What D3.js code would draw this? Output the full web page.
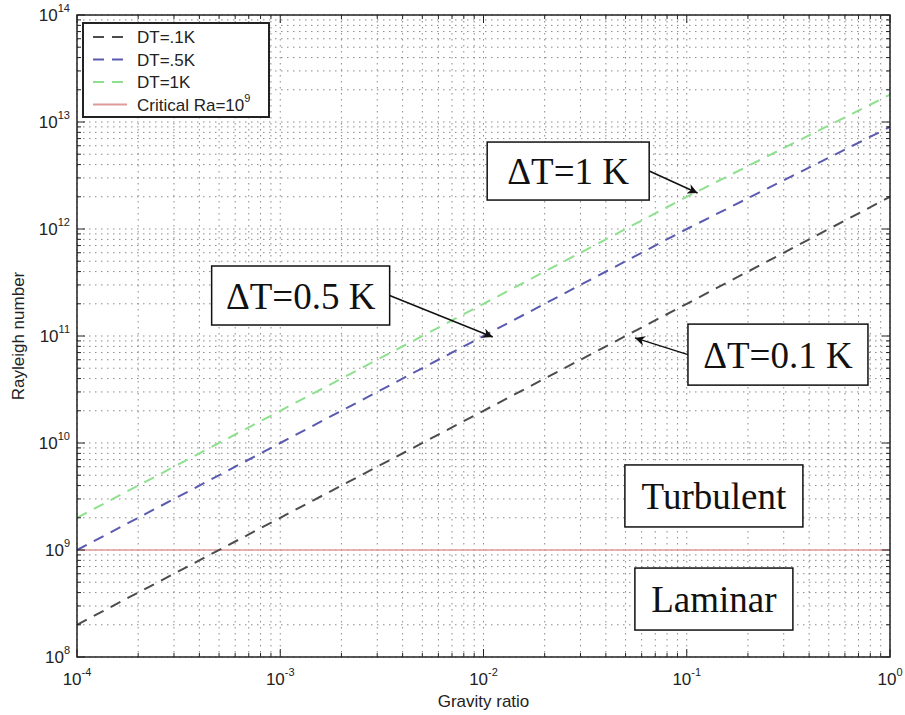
<!DOCTYPE html>
<html>
<head>
<meta charset="utf-8">
<script src="https://cdn.jsdelivr.net/npm/d3@7"></script>
<style>
  body { margin: 0; background: #fff; }
  text { font-family: "Liberation Sans", Arial, sans-serif; }
  .serif { font-family: "Liberation Serif", "Times New Roman", serif; }
</style>
</head>
<body>
<script>
// dados
var gravidade = [1e-4, 1e-3, 1e-2, 1e-1, 1];
var raDT01 = [2e8, 2e9, 2e10, 2e11, 2e12];
var raDT05 = [1e9, 1e10, 1e11, 1e12, 9e12];
var raDT1 = [2e9, 2e10, 2e11, 2e12, 1.8e13];
var raCritico = 1e9;
var xTicks = [1e-4, 1e-3, 1e-2, 1e-1, 1];
var xExpoentes = ["-4", "-3", "-2", "-1", "0"];
var yTicks = [1e8, 1e9, 1e10, 1e11, 1e12, 1e13, 1e14];
var yExpoentes = ["8", "9", "10", "11", "12", "13", "14"];
var legendaNomes = ["DT=.1K", "DT=.5K", "DT=1K", "Critical Ra=10"];

// anotacoes: centro da caixa e ponta da seta em coordenadas dos dados
var anotacoes = [
  {texto: "\u0394T=1 K", g: 0.0261, ra: 3.48e12, w: 162, h: 58, tipG: 0.113, tipRa: 2.17e12, lado: "right"},
  {texto: "\u0394T=0.5 K", g: 1.26e-3, ra: 2.39e11, w: 178, h: 59, tipG: 0.0111, tipRa: 9.8e10, lado: "right"},
  {texto: "\u0394T=0.1 K", g: 0.281, ra: 6.7e10, w: 180, h: 61, tipG: 0.0556, tipRa: 9.6e10, lado: "left"},
  {texto: "Turbulent", g: 0.136, ra: 3.2e9, w: 178, h: 62},
  {texto: "Laminar", g: 0.136, ra: 3.48e8, w: 158, h: 62}
];

var width = 905;
var height = 715;
var margin = {top: 15, left: 77, right: 15, bottom: 58};
var plotW = width - margin.left - margin.right;
var plotH = height - margin.top - margin.bottom;

var svgTag = d3.select("body").append("svg")
  .attr("width", width)
  .attr("height", height);

var defs = svgTag.append("defs");
defs.append("marker")
  .attr("id", "seta")
  .attr("viewBox", "0 0 10 10")
  .attr("refX", 10).attr("refY", 5)
  .attr("markerWidth", 14).attr("markerHeight", 10)
  .attr("markerUnits", "userSpaceOnUse")
  .attr("orient", "auto")
  .append("path")
  .attr("d", "M0,0 L10,5 L0,10 L3,5 Z")
  .attr("fill", "#111");

var x = d3.scaleLog().domain([1e-4, 1]).range([0, plotW]);
var y = d3.scaleLog().domain([1e8, 1e14]).range([plotH, 0]);

var g = svgTag.append("g").attr("transform", "translate(" + margin.left + "," + margin.top + ")");

// grade pontilhada (maior e menor)
var xTodos = x.ticks();
var yTodos = y.ticks();
var grade = g.append("g").attr("class", "grade");
grade.selectAll(".gx").data(xTodos).enter().append("line")
  .attr("x1", d => x(d)).attr("x2", d => x(d))
  .attr("y1", 0).attr("y2", plotH)
  .attr("stroke", "#8a8a8a").attr("stroke-width", 1)
  .attr("stroke-dasharray", "1.5,4.5");
grade.selectAll(".gy").data(yTodos).enter().append("line")
  .attr("y1", d => y(d)).attr("y2", d => y(d))
  .attr("x1", 0).attr("x2", plotW)
  .attr("stroke", "#8a8a8a").attr("stroke-width", 1)
  .attr("stroke-dasharray", "1.5,4.5");

// linhas
var linha = d3.line().x((d, i) => x(gravidade[i])).y(d => y(d));
var series = [
  {dados: raDT01, cor: "#4c4c4c"},
  {dados: raDT05, cor: "#5a5ab0"},
  {dados: raDT1, cor: "#8ee08e"}
];

g.append("line")
  .attr("x1", x(1e-4)).attr("x2", x(1))
  .attr("y1", y(raCritico)).attr("y2", y(raCritico))
  .attr("stroke", "#e09a9a").attr("stroke-width", 1.5);

series.forEach(function(s) {
  g.append("path")
    .datum(s.dados)
    .attr("d", linha)
    .attr("fill", "none")
    .attr("stroke", s.cor)
    .attr("stroke-width", 2)
    .attr("stroke-dasharray", "11,8");
});

// ticks para dentro nos quatro lados
function ehMaior(d) { return Math.abs(Math.log10(d) - Math.round(Math.log10(d))) < 1e-6; }
var ticksG = g.append("g").attr("stroke", "#222").attr("stroke-width", 1);
xTodos.forEach(function(d) {
  var len = ehMaior(d) ? 8 : 4;
  ticksG.append("line").attr("x1", x(d)).attr("x2", x(d)).attr("y1", plotH).attr("y2", plotH - len);
  ticksG.append("line").attr("x1", x(d)).attr("x2", x(d)).attr("y1", 0).attr("y2", len);
});
yTodos.forEach(function(d) {
  var len = ehMaior(d) ? 8 : 4;
  ticksG.append("line").attr("y1", y(d)).attr("y2", y(d)).attr("x1", 0).attr("x2", len);
  ticksG.append("line").attr("y1", y(d)).attr("y2", y(d)).attr("x1", plotW).attr("x2", plotW - len);
});

g.append("rect")
  .attr("width", plotW).attr("height", plotH)
  .attr("fill", "none").attr("stroke", "#222").attr("stroke-width", 1.5);

// rotulos dos eixos
xTicks.forEach(function(d, i) {
  var t = g.append("text")
    .attr("x", x(d)).attr("y", plotH + 28)
    .attr("text-anchor", "middle")
    .attr("font-size", 17).attr("fill", "#222");
  t.append("tspan").text("10");
  t.append("tspan").attr("font-size", 11).attr("dy", -9).text(xExpoentes[i]);
});
yTicks.forEach(function(d, i) {
  var t = g.append("text")
    .attr("x", -7).attr("y", y(d) + 6)
    .attr("text-anchor", "end")
    .attr("font-size", 17).attr("fill", "#222");
  t.append("tspan").text("10");
  t.append("tspan").attr("font-size", 11).attr("dy", -9).text(yExpoentes[i]);
});

svgTag.append("text")
  .attr("x", margin.left + plotW / 2).attr("y", 707)
  .attr("text-anchor", "middle").attr("font-size", 17).attr("fill", "#222")
  .text("Gravity ratio");
svgTag.append("text")
  .attr("transform", "translate(24," + (margin.top + plotH / 2) + ") rotate(-90)")
  .attr("text-anchor", "middle").attr("font-size", 17).attr("fill", "#222")
  .text("Rayleigh number");

// legenda
var leg = g.append("g").attr("transform", "translate(6,8)");
leg.append("rect")
  .attr("width", 186).attr("height", 94)
  .attr("fill", "#fff").attr("stroke", "#222").attr("stroke-width", 2);
var coresLeg = ["#4c4c4c", "#5a5ab0", "#8ee08e", "#e09a9a"];
legendaNomes.forEach(function(nome, i) {
  var yy = 14 + i * 22.5;
  leg.append("line")
    .attr("x1", 10).attr("x2", 44).attr("y1", yy).attr("y2", yy)
    .attr("stroke", coresLeg[i]).attr("stroke-width", 2)
    .attr("stroke-dasharray", i < 3 ? "11,8" : null);
  var t = leg.append("text")
    .attr("x", 54).attr("y", yy + 6)
    .attr("font-size", 17).attr("fill", "#222");
  t.append("tspan").text(nome);
  if (i === 3) t.append("tspan").attr("font-size", 11).attr("dy", -9).text("9");
});

// anotacoes com caixas e setas
anotacoes.forEach(function(a) {
  var cx = x(a.g), cy = y(a.ra);
  g.append("rect")
    .attr("x", cx - a.w / 2).attr("y", cy - a.h / 2)
    .attr("width", a.w).attr("height", a.h)
    .attr("fill", "#fff").attr("stroke", "#111").attr("stroke-width", 1.5);
  g.append("text")
    .attr("class", "serif")
    .attr("x", cx).attr("y", cy + 13)
    .attr("text-anchor", "middle")
    .attr("font-size", 37).attr("fill", "#111")
    .text(a.texto);
  if (a.lado) {
    var sx = a.lado === "right" ? cx + a.w / 2 : cx - a.w / 2;
    g.append("line")
      .attr("x1", sx).attr("y1", cy)
      .attr("x2", x(a.tipG)).attr("y2", y(a.tipRa))
      .attr("stroke", "#111").attr("stroke-width", 1.5)
      .attr("marker-end", "url(#seta)");
  }
});
</script>
</body>
</html>
